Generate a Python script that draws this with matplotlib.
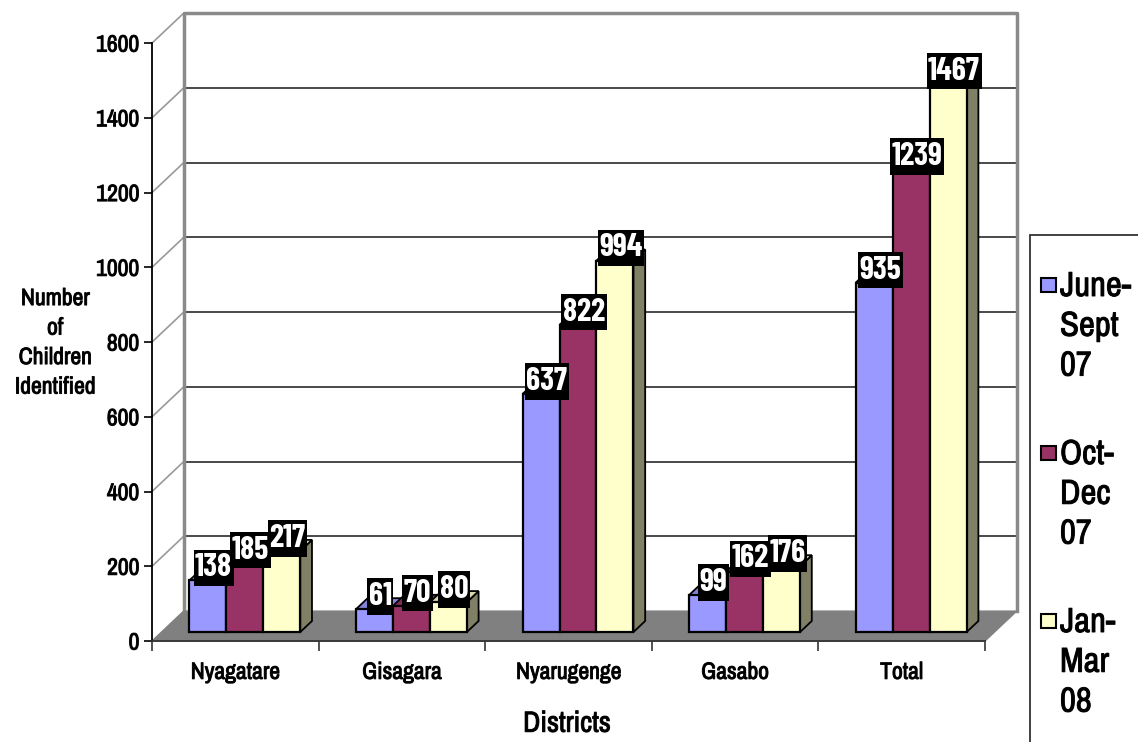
import matplotlib.pyplot as plt
import matplotlib.patheffects as pe
from matplotlib.patches import Rectangle
from matplotlib.path import Path
from matplotlib.colors import to_rgb

# data
districts = ["Nyagatare", "Gisagara", "Nyarugenge", "Gasabo", "Total"]
june_sept_07 = [138, 61, 637, 99, 935]
oct_dec_07 = [185, 70, 822, 162, 1239]
jan_mar_08 = [217, 80, 994, 176, 1467]
series_names = ["June-\nSept\n07", "Oct-\nDec\n07", "Jan-\nMar\n08"]
series_colors = ["#9999ff", "#993366", "#ffffcc"]
y_ticks = [0, 200, 400, 600, 800, 1000, 1200, 1400, 1600]

FONT = ["Archivo Narrow", "Liberation Sans", "DejaVu Sans"]
LABEL_FONT = ["Barlow Condensed", "Archivo Narrow", "DejaVu Sans"]
plt.rcParams["font.family"] = FONT

# make the narrow font a little heavier, like the original
HEAVY = [pe.withStroke(linewidth=0.7, foreground="#111111")]

W, H = 1138, 742

# fake 3d: back wall is shifted by DX categories and DY value units
DX, DY = 0.19, 80
BAR_W = 0.222
GAP = (1 - 3 * BAR_W) / 2
F0 = 0.3     # front face of bars sits this far into the depth
FD = 0.37    # depth of the bars


def shade(c, k):
    r, g, b = to_rgb(c)
    return (r * k, g * k, b * k)


def tall_box(x0, y0, width, height, mutation_size):
    # black label box: tight at the sides, roomy above and below
    px = 0.05 * mutation_size
    cy = y0 + height / 2
    hh = 0.57 * mutation_size
    xa, xb = x0 - px, x0 + width + px
    return Path([(xa, cy - hh), (xb, cy - hh), (xb, cy + hh), (xa, cy + hh), (xa, cy - hh)],
                closed=True)


fig = plt.figure(figsize=(W / 100, H / 100), dpi=100)
ax = fig.add_axes([152 / W, 0.1361, 0.7598, 0.8461])
ax.set_xlim(0, len(districts) + DX)
ax.set_ylim(0, y_ticks[-1] + DY)
ax.patch.set_visible(False)

n = len(districts)
top = y_ticks[-1] + DY

# back wall, gridlines and connectors
for v in y_ticks[1:-1]:
    ax.plot([DX, n + DX], [v + DY, v + DY], color="#3a3a3a", lw=1.3, zorder=1, clip_on=False)
for v in y_ticks[1:]:
    ax.plot([0, DX], [v, v + DY], color="#999999", lw=1.2, zorder=1, clip_on=False)
ax.plot([DX, DX, n + DX, n + DX], [DY, top, top, DY], color="#8a8a8a", lw=2.5,
        zorder=1, clip_on=False)

# floor
ax.fill([0, n, n + DX, DX], [0, 0, DY, DY], color="#808080", zorder=2, clip_on=False)

ox, oy = F0 * DX, F0 * DY
bx, by = FD * DX, FD * DY
series = [june_sept_07, oct_dec_07, jan_mar_08]
for s, vals in enumerate(series):
    c = series_colors[s]
    for i, v in enumerate(vals):
        x0 = i + GAP + s * BAR_W + ox
        z = 3 + s
        ax.fill([x0 + BAR_W, x0 + BAR_W + bx, x0 + BAR_W + bx, x0 + BAR_W],
                [oy, oy + by, oy + v + by, oy + v],
                facecolor=shade(c, 0.5), edgecolor="black", lw=1.3, zorder=z)
        ax.fill([x0, x0 + BAR_W, x0 + BAR_W + bx, x0 + bx],
                [oy + v, oy + v, oy + v + by, oy + v + by],
                facecolor=shade(c, 0.85), edgecolor="black", lw=1.3, zorder=z)
        ax.bar(x0, v, width=BAR_W, bottom=oy, align="edge", color=c,
               edgecolor="black", lw=1.6, zorder=z + 0.5)
        ax.text(x0 + BAR_W / 2 + bx / 2, oy + v + by / 2 + 19, str(v),
                color="white", fontsize=23, fontweight="bold", family=LABEL_FONT,
                ha="center", va="center", zorder=20,
                bbox=dict(facecolor="black", edgecolor="none", boxstyle=tall_box))

# axes
for side in ["top", "right"]:
    ax.spines[side].set_visible(False)
ax.spines["left"].set_bounds(0, y_ticks[-1])
ax.spines["left"].set_linewidth(1.3)
ax.spines["bottom"].set_bounds(0, n)
ax.spines["bottom"].set_color("#333333")
ax.spines["bottom"].set_linewidth(1.3)
ax.spines["left"].set_zorder(2.5)

ax.set_yticks(y_ticks)
ax.set_yticklabels([str(v) for v in y_ticks])
ax.tick_params(axis="y", length=6, width=1.2, pad=3, labelsize=17)
ax.set_xticks(range(n + 1))
ax.set_xticklabels([])
ax.tick_params(axis="x", which="major", length=7, width=1.2, color="#333333")
ax.set_xticks([i + 0.5 for i in range(n)], minor=True)
ax.set_xticklabels(districts, minor=True)
ax.tick_params(axis="x", which="minor", length=0, pad=15, labelsize=17)
for t in ax.get_yticklabels() + ax.get_xticklabels(minor=True):
    t.set_path_effects(HEAVY)

ax.set_xlabel("Districts", fontsize=21, path_effects=HEAVY)
ax.xaxis.set_label_coords(0.48, -0.131)
ax.xaxis.label.set_va("center")
ax.set_ylabel("Number\nof\nChildren\nIdentified", fontsize=17, rotation=0,
              ha="center", va="center", linespacing=1.5, path_effects=HEAVY)
ax.yaxis.set_label_coords(-0.112, 0.475)

# legend drawn by hand, it runs off the figure edge
fig.add_artist(Rectangle((1030 / W, -0.05), 0.2, 1 - 235 / H + 0.05, transform=fig.transFigure,
                         facecolor="white", edgecolor="#333333", lw=1.3))
for k, name in enumerate(series_names):
    yc = 285 + k * 168
    fig.add_artist(Rectangle((1041 / W, 1 - (yc + 7) / H), 15 / W, 14 / H,
                             transform=fig.transFigure, facecolor=series_colors[k],
                             edgecolor="black", lw=1.5))
    fig.text(1060 / W, 1 - (yc - 15) / H, name, fontsize=25, ha="left", va="top",
             linespacing=1.3, path_effects=HEAVY)

fig.savefig("out.png", dpi=100)
